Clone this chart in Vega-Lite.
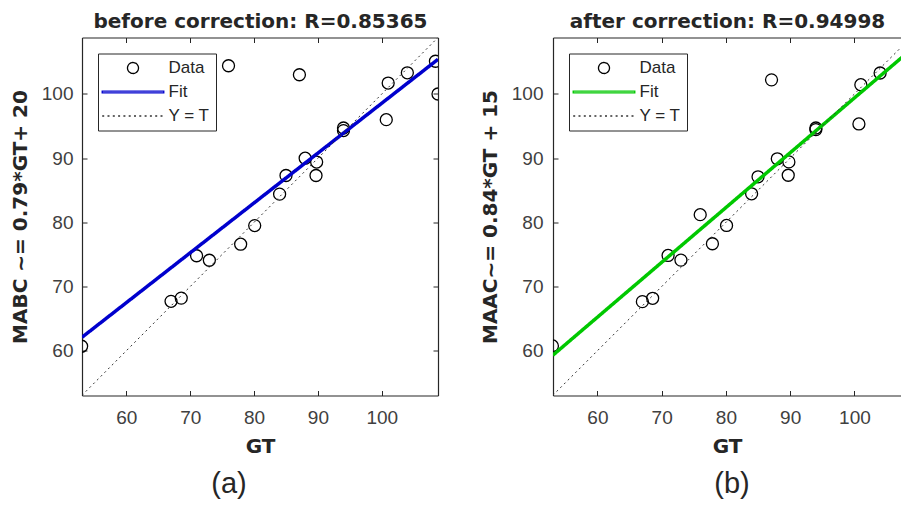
{
  "$schema": "https://vega.github.io/schema/vega-lite/v6.json",
  "background": "white",
  "padding": {"left": 10, "top": 10.5, "right": 0, "bottom": 0},
  "datasets": {
    "beforeData": [
      {"gt": 53.0, "val": 60.7, "series": "Data"},
      {"gt": 67.0, "val": 67.7, "series": "Data"},
      {"gt": 68.6, "val": 68.2, "series": "Data"},
      {"gt": 71.0, "val": 74.8, "series": "Data"},
      {"gt": 73.0, "val": 74.1, "series": "Data"},
      {"gt": 76.0, "val": 104.4, "series": "Data"},
      {"gt": 77.9, "val": 76.6, "series": "Data"},
      {"gt": 80.1, "val": 79.5, "series": "Data"},
      {"gt": 84.0, "val": 84.4, "series": "Data"},
      {"gt": 85.0, "val": 87.3, "series": "Data"},
      {"gt": 87.1, "val": 103.0, "series": "Data"},
      {"gt": 88.0, "val": 90.0, "series": "Data"},
      {"gt": 89.7, "val": 87.3, "series": "Data"},
      {"gt": 89.8, "val": 89.4, "series": "Data"},
      {"gt": 94.0, "val": 94.7, "series": "Data"},
      {"gt": 94.0, "val": 94.3, "series": "Data"},
      {"gt": 100.7, "val": 96.0, "series": "Data"},
      {"gt": 101.0, "val": 101.7, "series": "Data"},
      {"gt": 104.0, "val": 103.3, "series": "Data"},
      {"gt": 108.4, "val": 105.1, "series": "Data"},
      {"gt": 108.8, "val": 100.0, "series": "Data"}
    ],
    "afterData": [
      {"gt": 53.0, "val": 60.75, "series": "Data"},
      {"gt": 67.0, "val": 67.65, "series": "Data"},
      {"gt": 68.6, "val": 68.17, "series": "Data"},
      {"gt": 71.0, "val": 74.85, "series": "Data"},
      {"gt": 73.0, "val": 74.12, "series": "Data"},
      {"gt": 76.0, "val": 81.2, "series": "Data"},
      {"gt": 77.9, "val": 76.67, "series": "Data"},
      {"gt": 80.1, "val": 79.52, "series": "Data"},
      {"gt": 84.0, "val": 84.45, "series": "Data"},
      {"gt": 85.0, "val": 87.1, "series": "Data"},
      {"gt": 87.1, "val": 102.2, "series": "Data"},
      {"gt": 88.0, "val": 89.9, "series": "Data"},
      {"gt": 89.7, "val": 87.34, "series": "Data"},
      {"gt": 89.8, "val": 89.42, "series": "Data"},
      {"gt": 94.0, "val": 94.7, "series": "Data"},
      {"gt": 94.0, "val": 94.45, "series": "Data"},
      {"gt": 100.7, "val": 95.33, "series": "Data"},
      {"gt": 101.0, "val": 101.45, "series": "Data"},
      {"gt": 104.0, "val": 103.27, "series": "Data"},
      {"gt": 108.4, "val": 105.0, "series": "Data"},
      {"gt": 108.8, "val": 100.0, "series": "Data"}
    ],
    "beforeFit": [
      {"gt": 53.06, "val": 62.1, "series": "Fit"},
      {"gt": 108.8, "val": 105.4, "series": "Fit"}
    ],
    "afterFit": [
      {"gt": 53.06, "val": 59.3, "series": "Fit"},
      {"gt": 108.8, "val": 106.9, "series": "Fit"}
    ],
    "identity": [
      {"gt": 53.06, "val": 53.06, "series": "Y = T"},
      {"gt": 108.8, "val": 108.8, "series": "Y = T"}
    ]
  },
  "spacing": 41,
  "hconcat": [
    {
      "width": 356,
      "height": 358,
      "title": {"text": "(a)", "orient": "bottom", "frame": "group", "anchor": "middle", "dx": -31, "offset": 13},
      "resolve": {"axis": {"x": "independent", "y": "independent"}},
      "layer": [
        {
          "data": {"name": "beforeData"},
          "mark": {"type": "point", "filled": false, "size": 144, "strokeWidth": 1.3, "opacity": 1, "clip": true},
          "encoding": {
            "x": {"field": "gt", "type": "quantitative", "scale": {"domain": [53.06, 108.8], "nice": false, "zero": false},
                  "axis": {"orient": "bottom", "values": [60, 70, 80, 90, 100], "title": "GT", "labelPadding": 18, "titlePadding": 9}},
            "y": {"field": "val", "type": "quantitative", "scale": {"domain": [53.03, 108.8], "nice": false, "zero": false},
                  "axis": {"orient": "left", "values": [60, 70, 80, 90, 100], "title": "MABC ~= 0.79*GT+ 20", "labelPadding": 14, "titlePadding": 11}},
            "color": {"field": "series", "type": "nominal", "scale": {"domain": ["Data", "Fit", "Y = T"], "range": ["#000000", "#0000cd", "#333333"]}, "legend": {"title": null}},
            "shape": {"field": "series", "type": "nominal", "scale": {"domain": ["Data", "Fit", "Y = T"], "range": ["circle", "M-5.6,-0.15H5.6V0.15H-5.6Z", "M-5.6,0H5.6"]}, "legend": {"title": null}}
          }
        },
        {
          "data": {"name": "beforeFit"},
          "mark": {"type": "line", "strokeWidth": 3.5, "opacity": 1, "clip": true},
          "encoding": {
            "x": {"field": "gt", "type": "quantitative", "axis": {"orient": "top", "values": [60, 70, 80, 90, 100], "labels": false, "title": "before correction: R=0.85365", "titlePadding": 6}},
            "y": {"field": "val", "type": "quantitative", "axis": {"orient": "right", "values": [60, 70, 80, 90, 100], "labels": false, "title": null}},
            "color": {"field": "series", "type": "nominal", "legend": {"title": null}},
            "strokeDash": {"field": "series", "type": "nominal", "scale": {"domain": ["Data", "Fit", "Y = T"], "range": [[1, 0], [1, 0], [2, 3.3]]}, "legend": {"title": null}}
          }
        },
        {
          "data": {"name": "identity"},
          "mark": {"type": "line", "strokeWidth": 1, "opacity": 1, "clip": true},
          "encoding": {
            "x": {"field": "gt", "type": "quantitative", "axis": null},
            "y": {"field": "val", "type": "quantitative", "axis": null},
            "color": {"field": "series", "type": "nominal", "legend": {"title": null}},
            "strokeDash": {"field": "series", "type": "nominal", "legend": {"title": null}}
          }
        }
      ]
    },
    {
      "width": 348,
      "height": 358,
      "title": {"text": "(b)", "orient": "bottom", "frame": "group", "anchor": "middle", "dx": 5, "offset": 13},
      "resolve": {"axis": {"x": "independent", "y": "independent"}},
      "layer": [
        {
          "data": {"name": "afterData"},
          "mark": {"type": "point", "filled": false, "size": 144, "strokeWidth": 1.3, "opacity": 1, "clip": true},
          "encoding": {
            "x": {"field": "gt", "type": "quantitative", "scale": {"domain": [53.09, 107.25], "nice": false, "zero": false},
                  "axis": {"orient": "bottom", "values": [60, 70, 80, 90, 100], "title": "GT", "labelPadding": 18, "titlePadding": 9}},
            "y": {"field": "val", "type": "quantitative", "scale": {"domain": [53.03, 108.8], "nice": false, "zero": false},
                  "axis": {"orient": "left", "values": [60, 70, 80, 90, 100], "title": "MAAC~= 0.84*GT + 15", "labelPadding": 15, "titlePadding": 11}},
            "color": {"field": "series", "type": "nominal", "scale": {"domain": ["Data", "Fit", "Y = T"], "range": ["#000000", "#00c800", "#333333"]}, "legend": {"title": null}},
            "shape": {"field": "series", "type": "nominal", "scale": {"domain": ["Data", "Fit", "Y = T"], "range": ["circle", "M-5.6,-0.15H5.6V0.15H-5.6Z", "M-5.6,0H5.6"]}, "legend": {"title": null}}
          }
        },
        {
          "data": {"name": "afterFit"},
          "mark": {"type": "line", "strokeWidth": 3.5, "opacity": 1, "clip": true},
          "encoding": {
            "x": {"field": "gt", "type": "quantitative", "axis": {"orient": "top", "values": [60, 70, 80, 90, 100], "labels": false, "title": "after correction: R=0.94998", "titlePadding": 6}},
            "y": {"field": "val", "type": "quantitative", "axis": null},
            "color": {"field": "series", "type": "nominal", "legend": {"title": null}},
            "strokeDash": {"field": "series", "type": "nominal", "scale": {"domain": ["Data", "Fit", "Y = T"], "range": [[1, 0], [1, 0], [2, 3.3]]}, "legend": {"title": null}}
          }
        },
        {
          "data": {"name": "identity"},
          "mark": {"type": "line", "strokeWidth": 1, "opacity": 1, "clip": true},
          "encoding": {
            "x": {"field": "gt", "type": "quantitative", "axis": null},
            "y": {"field": "val", "type": "quantitative", "axis": null},
            "color": {"field": "series", "type": "nominal", "legend": {"title": null}},
            "strokeDash": {"field": "series", "type": "nominal", "legend": {"title": null}}
          }
        }
      ]
    }
  ],
  "resolve": {
    "scale": {"x": "independent", "y": "independent", "color": "independent", "shape": "independent", "strokeDash": "independent"},
    "legend": {"color": "independent", "shape": "independent", "strokeDash": "independent"},
    "axis": {"x": "independent", "y": "independent"}
  },
  "config": {
    "view": {"stroke": null},
    "axis": {
      "grid": false,
      "domainColor": "#262626",
      "domainWidth": 1.2,
      "tickColor": "#262626",
      "tickSize": -5,
      "labelFont": "Liberation Sans",
      "labelFontSize": 19,
      "labelColor": "#404040",
      "titleFont": "DejaVu Sans",
      "titleFontSize": 20,
      "titleFontWeight": "bold",
      "titleColor": "#262626"
    },
    "legend": {
      "orient": "top-left",
      "offset": 16,
      "labelFont": "Liberation Sans",
      "labelFontSize": 17,
      "labelColor": "#262626",
      "symbolSize": 121,
      "symbolStrokeWidth": 1.3,
      "symbolOpacity": 1,
      "strokeColor": "#262626",
      "fillColor": "white",
      "padding": 6,
      "rowPadding": 6,
      "symbolOffset": 20.5,
      "labelOffset": 27
    },
    "title": {"font": "Liberation Sans", "fontSize": 29, "fontWeight": "normal", "color": "#262626"}
  }
}
